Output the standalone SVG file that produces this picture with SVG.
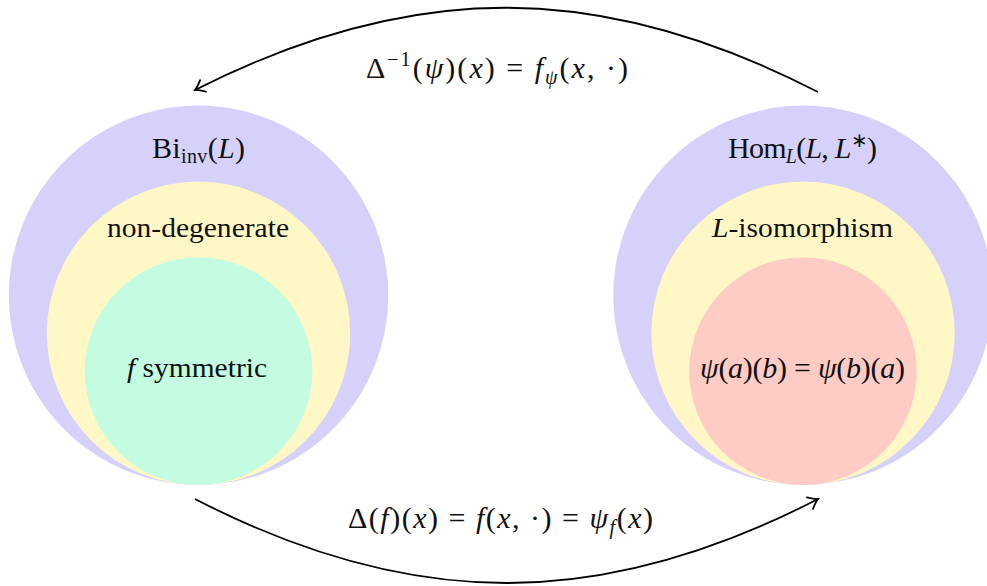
<svg xmlns="http://www.w3.org/2000/svg" width="987" height="586" viewBox="0 0 987 586">
<style>
text { font-family: "Liberation Serif", "Times New Roman", serif; font-size: 28px; fill: #111; }
.m { font-size: 30px; }
.i { font-style: italic; }
.s { font-size: 20px; }
.outer { fill: #d6d1fb; }
.mid { fill: #fff7c5; }
.green { fill: #c4fce1; }
.red { fill: #ffccc5; }
.conn { fill: none; stroke: #000; stroke-width: 1.8; }
</style>
<defs>
<marker id="arr" markerUnits="userSpaceOnUse" markerWidth="20" markerHeight="20" viewBox="-10 -10 20 20" refX="0" refY="0" orient="auto">
<path d="M -9,-6.5 Q -3.5,-1.5 0,0 Q -3.5,1.5 -9,6.5" fill="none" stroke="#000" stroke-width="1.8" stroke-linecap="round"/>
</marker>
</defs>
<rect width="987" height="586" fill="#fff"/>
<g id="bi-inv">
<circle class="outer" cx="198.5" cy="295.3" r="189.7"/>
<circle class="mid" cx="198.5" cy="333.3" r="151.7"/>
<circle class="green" cx="198.5" cy="371.2" r="113.8"/>
<text class="m" x="198.5" y="158" text-anchor="middle" textLength="93">Bi<tspan class="s" dy="5">inv</tspan><tspan dy="-5">(</tspan><tspan class="i">L</tspan>)</text>
<text id="non-degenerate" x="198" y="237" text-anchor="middle" textLength="182" lengthAdjust="spacingAndGlyphs">non-degenerate</text>
<text id="f-symmetric" x="197" y="377" text-anchor="middle" textLength="140" lengthAdjust="spacingAndGlyphs"><tspan class="i">f</tspan> symmetric</text>
</g>
<g id="hom">
<circle class="outer" cx="803" cy="295.3" r="189.7"/>
<circle class="mid" cx="803" cy="333.3" r="151.7"/>
<circle class="red" cx="803" cy="371.2" r="113.8"/>
<text class="m" x="802.5" y="158" text-anchor="middle" textLength="149">Hom<tspan class="s i" dy="5">L</tspan><tspan dy="-5">(</tspan><tspan class="i">L</tspan>, <tspan class="i">L</tspan><tspan class="s" dy="-11">∗</tspan><tspan dy="11">)</tspan></text>
<text id="l-iso" x="802.5" y="237" text-anchor="middle" textLength="181" lengthAdjust="spacingAndGlyphs"><tspan class="i">L</tspan>-isomorphism</text>
<text id="psi-sym" class="m" x="802.5" y="378" text-anchor="middle" textLength="205"><tspan class="i">ψ</tspan>(<tspan class="i">a</tspan>)(<tspan class="i">b</tspan>) = <tspan class="i">ψ</tspan>(<tspan class="i">b</tspan>)(<tspan class="i">a</tspan>)</text>
</g>
<g id="connectors">
<path class="conn" d="M 818,92 C 601,-20 412,-20 195,90" marker-end="url(#arr)"/>
<path class="conn" d="M 195,499 C 412,611 601,611 818,499" marker-end="url(#arr)"/>
<text class="m" x="497" y="78" text-anchor="middle" textLength="262">Δ<tspan class="s" dy="-12">−1</tspan><tspan dy="12">(</tspan><tspan class="i">ψ</tspan>)(<tspan class="i">x</tspan>) = <tspan class="i">f</tspan><tspan class="s i" dy="6">ψ</tspan><tspan dy="-6">(</tspan><tspan class="i">x</tspan>, ·)</text>
<text class="m" x="500.5" y="528" text-anchor="middle" textLength="305">Δ(<tspan class="i">f</tspan>)(<tspan class="i">x</tspan>) = <tspan class="i">f</tspan>(<tspan class="i">x</tspan>, ·) = <tspan class="i">ψ</tspan><tspan class="s i" dy="6">f</tspan><tspan dy="-6">(</tspan><tspan class="i">x</tspan>)</text>
</g>
</svg>
